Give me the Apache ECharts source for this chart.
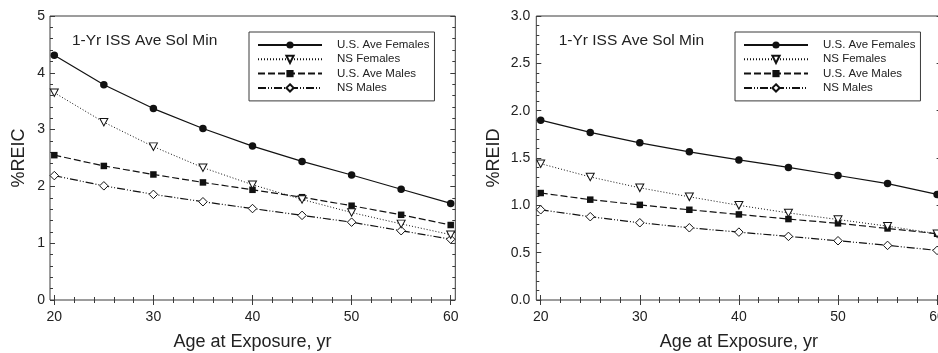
<!DOCTYPE html>
<html>
<head>
<meta charset="utf-8">
<script src="https://cdn.jsdelivr.net/npm/echarts@6/dist/echarts.min.js"></script>
<style>
  html, body { margin: 0; padding: 0; background: #fff; }
  #chart { width: 938px; height: 353px; }
</style>
</head>
<body>
<div id="chart"></div>
<script>
// Age at exposure (years)
const ages = [20, 25, 30, 35, 40, 45, 50, 55, 60];

// %REIC, 1-year ISS mission at average solar minimum
const reicUsFemales = [4.31, 3.79, 3.37, 3.02, 2.71, 2.44, 2.20, 1.95, 1.70];
const reicNsFemales = [3.65, 3.13, 2.70, 2.33, 2.03, 1.77, 1.54, 1.34, 1.15];
const reicUsMales   = [2.55, 2.36, 2.21, 2.07, 1.94, 1.81, 1.66, 1.50, 1.32];
const reicNsMales   = [2.19, 2.01, 1.86, 1.73, 1.61, 1.49, 1.37, 1.22, 1.07];

// %REID, same scenario
const reidUsFemales = [1.90, 1.77, 1.66, 1.565, 1.48, 1.40, 1.315, 1.23, 1.115];
const reidNsFemales = [1.44, 1.30, 1.185, 1.09, 1.00, 0.92, 0.85, 0.78, 0.70];
const reidUsMales   = [1.13, 1.06, 1.005, 0.953, 0.904, 0.855, 0.81, 0.756, 0.70];
const reidNsMales   = [0.953, 0.88, 0.816, 0.763, 0.717, 0.672, 0.626, 0.577, 0.524];

const seriesNames = ['U.S. Ave Females', 'NS Females', 'U.S. Ave Males', 'NS Males'];
const panelTitle = '1-Yr ISS Ave Sol Min';
const xTitle = 'Age at Exposure, yr';

const FONT = '"Liberation Sans", Arial, Helvetica, sans-serif';
const INK = '#111';
const AXIS = '#3a3a3a';
const TEXT = '#222';

// Line / marker styling per series
const styles = [
  { symbol: 'circle', symbolSize: 7.5, line: { type: 'solid', width: 1.2 },
    item: { color: INK, borderColor: INK, borderWidth: 0 } },
  { symbol: 'path://M0,0 L10,0 L5,9 Z', symbolSize: [8, 7.5], line: { type: [1, 2], width: 1 },
    item: { color: '#fff', borderColor: INK, borderWidth: 1 } },
  { symbol: 'rect', symbolSize: 6.5, line: { type: [7, 3], width: 1.2 },
    item: { color: INK, borderColor: INK, borderWidth: 0 } },
  { symbol: 'diamond', symbolSize: 8.5, line: { type: [8, 2, 1, 2, 1, 2], width: 1.2 },
    item: { color: '#fff', borderColor: INK, borderWidth: 1 } }
];

const panels = [
  { frameLeft: 50, dataLeft: 54.3, yName: '%REIC', yMax: 5, yInterval: 1, yDigits: 0,
    yNameGap: 22, yLabelMargin: 5, titleLeft: 72, legendLeft: 249,
    values: [reicUsFemales, reicNsFemales, reicUsMales, reicNsMales] },
  { frameLeft: 536.3, dataLeft: 540.7, yName: '%REID', yMax: 3, yInterval: 0.5, yDigits: 1,
    yNameGap: 33, yLabelMargin: 6, titleLeft: 558.7, legendLeft: 735,
    values: [reidUsFemales, reidNsFemales, reidUsMales, reidNsMales] }
];

const TOP = 16, HEIGHT = 284, FRAME_W = 405.3, DATA_W = 396.4;

const grid = [], xAxis = [], yAxis = [], series = [], title = [], legend = [];

panels.forEach((p, i) => {
  const frameIdx = grid.length;
  grid.push({ left: p.frameLeft, top: TOP, width: FRAME_W, height: HEIGHT, show: true,
              borderColor: AXIS, borderWidth: 1, backgroundColor: 'transparent',
              containLabel: false, outerBoundsMode: 'none' });
  const dataIdx = grid.length;
  grid.push({ left: p.dataLeft, top: TOP, width: DATA_W, height: HEIGHT,
              containLabel: false, outerBoundsMode: 'none' });

  // frame grid axes (box only)
  xAxis.push({ gridIndex: frameIdx, type: 'value', show: false, min: 0, max: 1 });
  yAxis.push({ gridIndex: frameIdx, type: 'value', show: false, min: 0, max: 1 });

  const tick = { inside: true, length: 5, lineStyle: { color: AXIS, width: 1 } };
  const minor = { show: true, splitNumber: 5, length: 3, lineStyle: { color: AXIS, width: 1 } };

  const xBottomIdx = xAxis.length;
  xAxis.push({
    gridIndex: dataIdx, type: 'value', position: 'bottom', min: 20, max: 60, interval: 10,
    axisLine: { show: false }, axisTick: tick, minorTick: minor, splitLine: { show: false },
    axisLabel: { margin: 10, fontSize: 14, color: TEXT, fontFamily: FONT },
    name: xTitle, nameLocation: 'middle', nameGap: 33,
    nameTextStyle: { fontSize: 18, color: TEXT, fontFamily: FONT }
  });
  xAxis.push({
    gridIndex: dataIdx, type: 'value', position: 'top', min: 20, max: 60, interval: 10,
    axisLine: { show: false }, axisTick: tick, minorTick: minor, splitLine: { show: false },
    axisLabel: { show: false }
  });

  const yLeftIdx = yAxis.length;
  yAxis.push({
    gridIndex: dataIdx, type: 'value', position: 'left', offset: p.dataLeft - p.frameLeft,
    min: 0, max: p.yMax, interval: p.yInterval,
    axisLine: { show: false }, axisTick: tick, minorTick: minor, splitLine: { show: false },
    axisLabel: { margin: p.yLabelMargin, fontSize: 14, color: TEXT, fontFamily: FONT,
                 formatter: v => v.toFixed(p.yDigits) },
    name: p.yName, nameLocation: 'middle', nameGap: p.yNameGap, nameRotate: 90,
    nameTextStyle: { fontSize: 18, color: TEXT, fontFamily: FONT }
  });
  yAxis.push({
    gridIndex: dataIdx, type: 'value', position: 'right',
    offset: (p.frameLeft + FRAME_W) - (p.dataLeft + DATA_W),
    min: 0, max: p.yMax, interval: p.yInterval,
    axisLine: { show: false }, axisTick: tick, minorTick: minor, splitLine: { show: false },
    axisLabel: { show: false }
  });

  seriesNames.forEach((name, k) => {
    const s = styles[k];
    series.push({
      name, type: 'line', xAxisIndex: xBottomIdx, yAxisIndex: yLeftIdx,
      data: ages.map((a, j) => [a, p.values[k][j]]),
      symbol: s.symbol, symbolSize: s.symbolSize, showAllSymbol: true,
      lineStyle: { color: INK, width: s.line.width, type: s.line.type },
      itemStyle: s.item, z: 10 - k, clip: false, animation: false,
      emphasis: { disabled: true }
    });
  });

  title.push({
    text: panelTitle, left: p.titleLeft, top: 33, padding: 0,
    textStyle: { fontSize: 15.5, fontWeight: 'normal', color: TEXT, fontFamily: FONT }
  });

  legend.push({
    data: seriesNames, orient: 'vertical', left: p.legendLeft, top: 32,
    padding: [7, 5, 7, 8], itemWidth: 64, itemHeight: 9, itemGap: 2.3,
    borderColor: AXIS, borderWidth: 1, backgroundColor: '#fff',
    selectedMode: false,
    textStyle: { fontSize: 11.5, lineHeight: 12, color: TEXT, fontFamily: FONT, padding: [0, 0, 0, 10] }
  });
});

const chart = echarts.init(document.getElementById('chart'), null, { renderer: 'canvas' });
chart.setOption({
  backgroundColor: '#fff',
  animation: false,
  title, legend, grid, xAxis, yAxis, series
});
</script>
</body>
</html>
